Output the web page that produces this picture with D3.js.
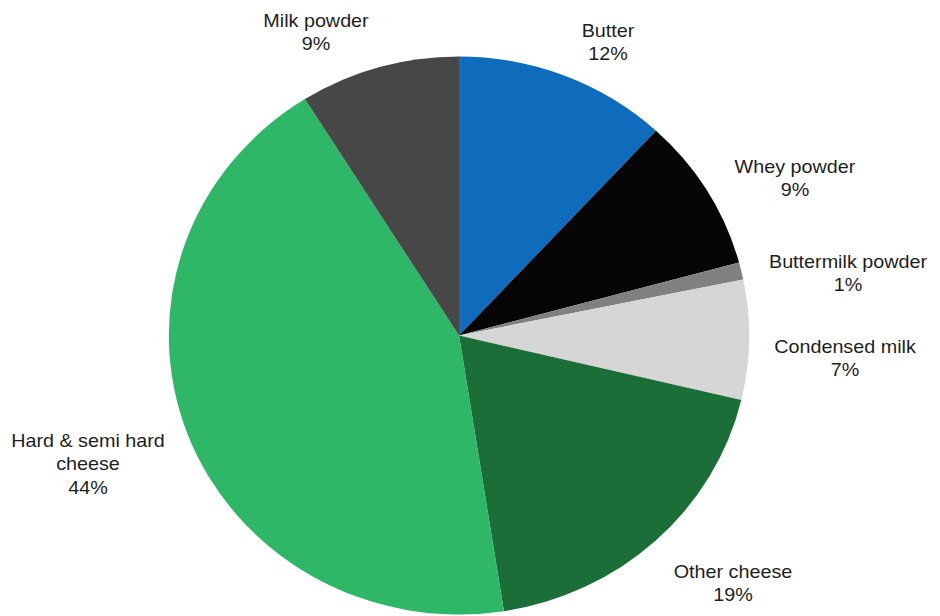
<!DOCTYPE html>
<html>
<head>
<meta charset="utf-8">
<script src="https://cdn.jsdelivr.net/npm/d3@7"></script>
<style>
  html, body { margin: 0; padding: 0; background: #ffffff; }
  svg { display: block; }
  text { font-family: "Liberation Sans", Arial, Helvetica, sans-serif; fill: #1e1e1e; }
</style>
</head>
<body>
<svg id="chart" width="940" height="616"></svg>
<script>
// Dairy product shares (%), clockwise from 12 o'clock
const categories = ["Butter", "Whey powder", "Buttermilk powder", "Condensed milk",
                    "Other cheese", "Hard & semi hard cheese", "Milk powder"];
const shares = [12, 9, 1, 7, 19, 44, 9];

// Label text lines for each slice (last line is the percentage)
const labelLines = [
  ["Butter"],
  ["Whey powder"],
  ["Buttermilk powder"],
  ["Condensed milk"],
  ["Other cheese"],
  ["Hard & semi hard", "cheese"],
  ["Milk powder"]
];

// Layout: slice colours and label anchors (centre x, first baseline y)
const colors = ["#0f6cbd", "#050505", "#808080", "#d6d6d6", "#1b6e37", "#2db766", "#474747"];
const labelAnchors = [
  [608, 37], [795, 173], [848, 268], [845, 353], [733, 578], [88, 447], [316, 27]
];

const width = 940, height = 616;
const cx = 459, cy = 335.5, radius = 279, stretchX = 1.04;
const lineHeight = 23.5;

const svg = d3.select("#chart");

const pie = d3.pie().sort(null).value(d => d).startAngle(0).endAngle(2 * Math.PI);
const arc = d3.arc().innerRadius(0).outerRadius(radius);

const arcs = pie(shares);

const g = svg.append("g")
  .attr("transform", `translate(${cx},${cy}) scale(${stretchX},1)`);

g.selectAll("path")
  .data(arcs)
  .join("path")
  .attr("d", arc)
  .attr("fill", (d, i) => colors[i]);

// Labels
const labels = svg.append("g").selectAll("g.label")
  .data(arcs)
  .join("g")
  .attr("class", "label")
  .attr("transform", (d, i) => `translate(${labelAnchors[i][0]},${labelAnchors[i][1]}) scale(${stretchX},1)`);

labels.each(function(d, i) {
  const lines = labelLines[i].concat([d3.format("d")(shares[i]) + "%"]);
  const t = d3.select(this).append("text")
    .attr("text-anchor", "middle")
    .style("font-size", "19px");
  lines.forEach((ln, k) => {
    t.append("tspan").attr("x", 0).attr("y", k * lineHeight).text(ln);
  });
});
</script>
</body>
</html>
